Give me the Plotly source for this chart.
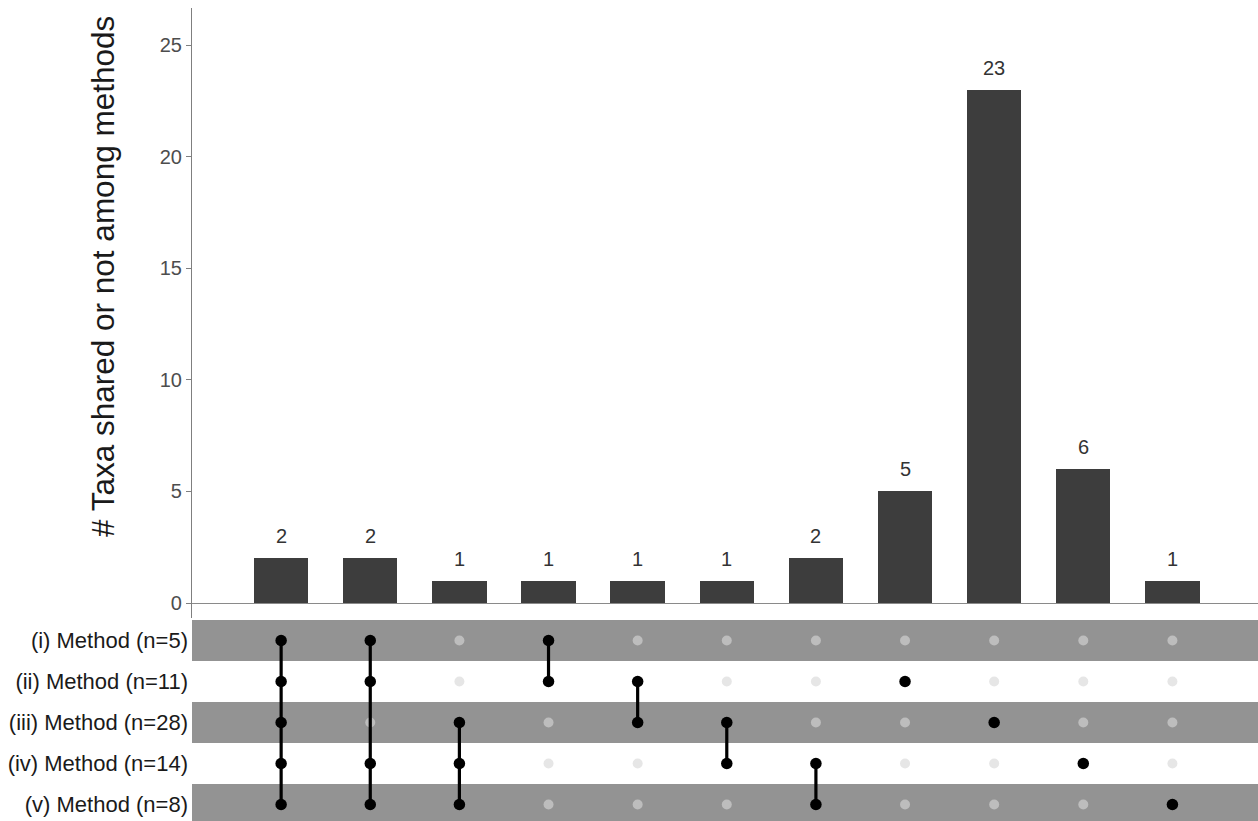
import plotly.graph_objects as go

# ---- data ----
set_names = ["(i) Method (n=5)", "(ii) Method (n=11)", "(iii) Method (n=28)",
             "(iv) Method (n=14)", "(v) Method (n=8)"]
intersection_sizes = [2, 2, 1, 1, 1, 1, 2, 5, 23, 6, 1]
# membership: list of set indices (0-based) per intersection column
memberships = [
    [0, 1, 2, 3, 4],
    [0, 1, 3, 4],
    [2, 3, 4],
    [0, 1],
    [1, 2],
    [2, 3],
    [3, 4],
    [1],
    [2],
    [3],
    [4],
]
y_ticks = [0, 5, 10, 15, 20, 25]
y_title = "# Taxa shared or not among methods"

FONT = "Liberation Sans, Arial, sans-serif"
W, H = 1258, 821
plot_left, plot_top = 192, 8
bar_bottom_px = 618
mat_top_px = 620

ncols = len(intersection_sizes)
nrows = len(set_names)
xs = list(range(1, ncols + 1))
rows = list(range(1, nrows + 1))
x_range = [0, 11.96]

fig = go.Figure()

# bars
fig.add_trace(go.Bar(
    x=xs, y=intersection_sizes, width=0.61,
    marker=dict(color="#3d3d3d", line=dict(color="#3d3d3d", width=0)),
    xaxis="x", yaxis="y", hoverinfo="skip", showlegend=False,
))

annotations = []
for xv, v in zip(xs, intersection_sizes):
    annotations.append(dict(
        x=xv, y=v, xref="x", yref="y", text=str(v), showarrow=False,
        yanchor="bottom", yshift=9, font=dict(family=FONT, size=20, color="#333333"),
    ))

# inactive dots
gray_rows = [r for r in rows if r % 2 == 1]
for band_rows, col in ((gray_rows, "#bdbdbd"), ([r for r in rows if r % 2 == 0], "#e6e6e6")):
    px, py = [], []
    for ci, mem in enumerate(memberships):
        for r in band_rows:
            if (r - 1) not in mem:
                px.append(xs[ci]); py.append(r)
    fig.add_trace(go.Scatter(
        x=px, y=py, mode="markers", xaxis="x2", yaxis="y2",
        marker=dict(size=10, color=col, line=dict(width=0)),
        hoverinfo="skip", showlegend=False,
    ))

# connecting lines
lx, ly = [], []
for ci, mem in enumerate(memberships):
    if len(mem) > 1:
        lx += [xs[ci], xs[ci], None]
        ly += [min(mem) + 1, max(mem) + 1, None]
fig.add_trace(go.Scatter(
    x=lx, y=ly, mode="lines", xaxis="x2", yaxis="y2",
    line=dict(color="black", width=3.2), hoverinfo="skip", showlegend=False,
))

# active dots
ax_, ay_ = [], []
for ci, mem in enumerate(memberships):
    for s in mem:
        ax_.append(xs[ci]); ay_.append(s + 1)
fig.add_trace(go.Scatter(
    x=ax_, y=ay_, mode="markers", xaxis="x2", yaxis="y2",
    marker=dict(size=11.5, color="black", line=dict(width=0)),
    hoverinfo="skip", showlegend=False,
))

# gray bands
shapes = []
for r in gray_rows:
    shapes.append(dict(
        type="rect", xref="x2", yref="y2", x0=x_range[0], x1=x_range[1],
        y0=r - 0.5, y1=r + 0.5, fillcolor="#939393", line=dict(width=0), layer="below",
    ))

plot_h = H - plot_top
bar_dom = [(H - bar_bottom_px) / plot_h, 1]
mat_dom = [0, (H - mat_top_px) / plot_h]

row_px = 41
mat_bottom_val = nrows + (H - (mat_top_px + row_px * 0.5 + row_px * (nrows - 1))) / row_px

annotations.append(dict(
    text=y_title, xref="paper", yref="paper",
    x=(103 - plot_left) / (W - plot_left), y=(H - 277) / plot_h,
    xanchor="center", yanchor="middle", textangle=-90, showarrow=False,
    font=dict(family=FONT, size=31.5, color="#1a1a1a"),
))

fig.update_layout(
    width=W, height=H,
    margin=dict(l=plot_left, r=0, t=plot_top, b=0),
    plot_bgcolor="white", paper_bgcolor="white",
    font=dict(family=FONT),
    bargap=0,
    xaxis=dict(range=x_range, domain=[0, 1], anchor="y", showticklabels=False,
               showgrid=False, zeroline=False, showline=False, ticks=""),
    yaxis=dict(range=[-0.67, 26.66], domain=bar_dom, anchor="x",
               tickvals=y_ticks, ticks="outside", ticklen=5, tickcolor="#7f7f7f",
               tickfont=dict(family=FONT, size=20, color="#4d4d4d"),
               showgrid=False, zeroline=True, zerolinecolor="#8a8a8a", zerolinewidth=1.2,
               showline=True, linecolor="#7f7f7f", linewidth=1.2),
    xaxis2=dict(range=x_range, domain=[0, 1], anchor="y2", showticklabels=False,
                showgrid=False, zeroline=False, showline=False, ticks=""),
    yaxis2=dict(range=[mat_bottom_val, 0.5], domain=mat_dom, anchor="x2",
                tickvals=rows, ticktext=set_names, ticks="", ticklabelstandoff=3,
                tickfont=dict(family=FONT, size=22, color="#1a1a1a"),
                showgrid=False, zeroline=False, showline=False),
    shapes=shapes,
    annotations=annotations,
)

fig.write_html("out.html", config={"displayModeBar": False},
               post_script="document.body.style.margin='0px';")
